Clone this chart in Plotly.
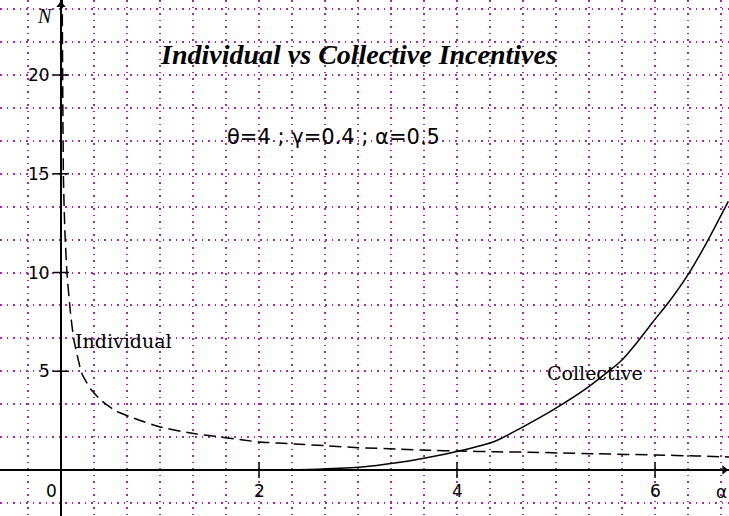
import plotly.graph_objects as go

# ---- data ----
ind_x = [0.012, 0.025, 0.04, 0.06, 0.095, 0.13, 0.21, 0.30, 0.41, 0.55, 0.73, 1.0, 1.31,
         1.68, 2.0, 2.36, 2.7, 3.0, 3.4, 3.72, 4.02, 4.39, 4.73, 5.07, 5.4, 6.0, 6.42, 6.76]
ind_y = [24.0, 14.7, 12.0, 10.0, 8.0, 6.6, 4.9, 4.1, 3.5, 3.0, 2.63, 2.18, 1.87,
         1.62, 1.42, 1.32, 1.22, 1.13, 1.06, 1.0, 0.96, 0.92, 0.9, 0.86, 0.82, 0.76, 0.71, 0.66]

col_x = [2.29, 2.6, 3.04, 3.37, 3.68, 4.02, 4.39, 4.64, 4.97, 5.31, 5.65, 5.81, 5.98,
         6.13, 6.32, 6.52, 6.74]
col_y = [0.0, 0.04, 0.15, 0.35, 0.61, 0.96, 1.47, 2.11, 3.04, 4.14, 5.49, 6.41, 7.51,
         8.44, 9.79, 11.5, 13.6]

x_ticks = [2, 4, 6]
x_tick_labels = ["2", "4", "6"]
y_ticks = [5, 10, 15, 20]
y_tick_labels = ["5", "10", "15", "20"]

title_text = "<b><i>Individual vs Collective Incentives</i></b>"
param_text = "θ=4 ; γ=0.4 ; α=0.5"

X_RANGE = [-0.616, 6.747]
Y_RANGE = [-2.33, 23.8]
GRID = "#a826a8"

fig = go.Figure()

# curves
fig.add_trace(go.Scatter(x=ind_x, y=ind_y, mode="lines",
                         line=dict(color="black", width=1.5, dash="12px,6px",
                                   shape="spline", smoothing=0.5),
                         hoverinfo="skip"))
fig.add_trace(go.Scatter(x=col_x, y=col_y, mode="lines",
                         line=dict(color="black", width=1.5, shape="spline", smoothing=0.5),
                         hoverinfo="skip"))

# tick marks built from tick arrays
tx, ty = [], []
for v in x_ticks:
    tx += [v, v, None]
    ty += [0.4, -0.4, None]
for v in y_ticks:
    tx += [-0.08, 0.08, None]
    ty += [v, v, None]
fig.add_trace(go.Scatter(x=tx, y=ty, mode="lines",
                         line=dict(color="black", width=1.5), hoverinfo="skip"))

# axis arrow heads
fig.add_trace(go.Scatter(x=[6.70], y=[0], mode="markers",
                         marker=dict(symbol="triangle-right", size=8, color="black"),
                         hoverinfo="skip"))
fig.add_trace(go.Scatter(x=[0], y=[23.55], mode="markers",
                         marker=dict(symbol="triangle-up", size=8, color="black"),
                         hoverinfo="skip"))

ann = []
tick_font = dict(family="DejaVu Sans", size=17, color="black")
for v, t in zip(x_ticks, x_tick_labels):
    ann.append(dict(x=v, y=0, xref="x", yref="y", text=t, showarrow=False,
                    yshift=-21, font=tick_font))
ann.append(dict(x=0, y=0, xref="x", yref="y", text="0", showarrow=False,
                xshift=-9, yshift=-21, font=tick_font))
for v, t in zip(y_ticks, y_tick_labels):
    ann.append(dict(x=0, y=v, xref="x", yref="y", text=t, showarrow=False,
                    xanchor="right", xshift=-9, font=tick_font))

ann.append(dict(x=3.0, y=21.06, xref="x", yref="y", text=title_text, showarrow=False,
                font=dict(family="Liberation Serif", size=28, color="black")))
ann.append(dict(x=2.75, y=16.86, xref="x", yref="y", text=param_text, showarrow=False,
                font=dict(family="DejaVu Sans", size=21, color="black")))
ann.append(dict(x=0.63, y=6.53, xref="x", yref="y", text="Individual", showarrow=False,
                font=dict(family="DejaVu Serif", size=19, color="black")))
ann.append(dict(x=5.39, y=4.9, xref="x", yref="y", text="Collective", showarrow=False,
                font=dict(family="DejaVu Serif", size=19, color="black")))
ann.append(dict(x=-0.16, y=23.0, xref="x", yref="y", text="<i>N</i>", showarrow=False,
                font=dict(family="Liberation Serif", size=20, color="black")))
ann.append(dict(x=6.745, y=-1.1, xref="x", yref="y", text="α", showarrow=False,
                xanchor="right", font=dict(family="DejaVu Sans", size=17, color="black")))

axis_common = dict(showgrid=True, gridcolor=GRID, gridwidth=1.5, griddash="1.5px,5px",
                   zeroline=True, zerolinecolor="black", zerolinewidth=1.5,
                   showticklabels=False, ticks="", showline=False, fixedrange=True)

fig.update_layout(
    width=729, height=516,
    margin=dict(l=0, r=0, t=0, b=0),
    paper_bgcolor="white", plot_bgcolor="white",
    showlegend=False, hovermode=False,
    xaxis=dict(range=X_RANGE, tick0=0, dtick=1/3, **axis_common),
    yaxis=dict(range=Y_RANGE, tick0=0, dtick=5/3, **axis_common),
    annotations=ann,
)

fig.write_html("out.html", config={"displayModeBar": False},
               post_script="document.body.style.margin='0px';document.body.style.overflow='hidden';")
